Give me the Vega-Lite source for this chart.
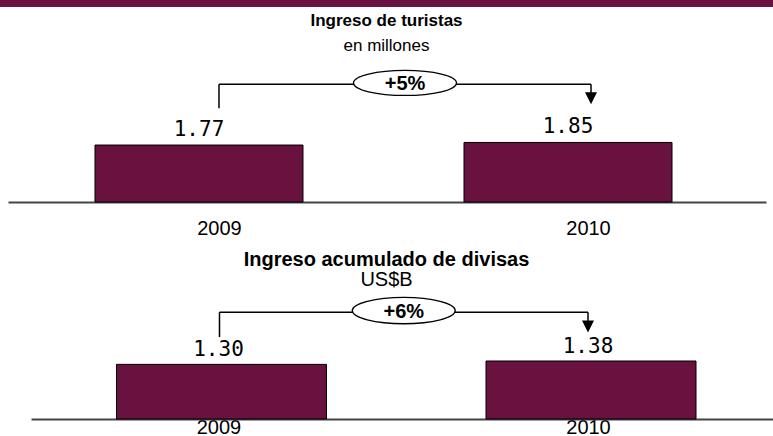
{
  "$schema": "https://vega.github.io/schema/vega-lite/v6.json",
  "padding": 0,
  "background": "white",
  "spacing": 5,
  "config": {
    "view": {"stroke": null},
    "font": "Liberation Sans",
    "title": {"anchor": "middle", "font": "Liberation Sans", "fontSize": 20, "fontWeight": "bold", "color": "#000000", "subtitleFont": "Liberation Sans", "subtitleFontSize": 20, "subtitleColor": "#000000"}
  },
  "datasets": {
    "header": [{"part": "header"}],
    "tourists": [{"year": 2009, "value": 1.77}, {"year": 2010, "value": 1.85}],
    "tourists_change": [{"from": 2009, "to": 2010, "label": "+5%"}],
    "revenue": [{"year": 2009, "value": 1.30}, {"year": 2010, "value": 1.38}],
    "revenue_change": [{"from": 2009, "to": 2010, "label": "+6%"}]
  },
  "vconcat": [
    {
      "width": 773,
      "height": 7,
      "data": {"name": "header"},
      "mark": {"type": "rect", "color": "#69113F"},
      "encoding": {}
    },
    {
      "spacing": 12,
      "vconcat": [
        {
          "width": 773,
          "height": 140,
          "title": {"text": "Ingreso de turistas", "subtitle": "en millones", "fontSize": 17, "subtitleFontSize": 17, "subtitlePadding": 8, "offset": 7},
          "layer": [
            {
              "data": {"name": "tourists"},
              "mark": {"type": "bar", "width": 208, "color": "#69113F", "stroke": "#000000", "strokeWidth": 1},
              "encoding": {
                "x": {"field": "year", "type": "quantitative", "scale": {"domain": [2008.496, 2010.523], "range": [8, 766], "zero": false, "nice": false},
                  "axis": {"values": [2009, 2010], "format": "d", "title": null, "grid": false, "ticks": false, "tickSize": 0, "labelPadding": 16, "labelOffset": 20, "labelFontSize": 20, "labelColor": "#000000", "labelFont": "Liberation Sans", "domainColor": "#444444", "domainWidth": 2}},
                "y": {"field": "value", "type": "quantitative", "scale": {"domain": [0, 4.35], "nice": false, "zero": true}, "axis": null}
              }
            },
            {
              "data": {"name": "tourists"},
              "mark": {"type": "text", "font": "DejaVu Sans Mono", "fontSize": 21, "baseline": "alphabetic", "dy": -9, "color": "#000000"},
              "encoding": {
                "x": {"field": "year", "type": "quantitative"},
                "y": {"field": "value", "type": "quantitative"},
                "text": {"field": "value", "type": "quantitative", "format": ".2f"}
              }
            },
            {
              "data": {"name": "tourists_change"},
              "mark": {"type": "rule", "xOffset": 20, "color": "#000000", "strokeWidth": 1.5},
              "encoding": {
                "x": {"field": "from", "type": "quantitative"},
                "y": {"datum": 2.91, "type": "quantitative"},
                "y2": {"datum": 3.66}
              }
            },
            {
              "data": {"name": "tourists_change"},
              "mark": {"type": "rule", "xOffset": 20, "x2Offset": 23, "color": "#000000", "strokeWidth": 1.5},
              "encoding": {
                "x": {"field": "from", "type": "quantitative"},
                "x2": {"field": "to"},
                "y": {"datum": 3.66, "type": "quantitative"}
              }
            },
            {
              "data": {"name": "tourists_change"},
              "mark": {"type": "rule", "xOffset": 23, "color": "#000000", "strokeWidth": 1.5},
              "encoding": {
                "x": {"field": "to", "type": "quantitative"},
                "y": {"datum": 3.66, "type": "quantitative"},
                "y2": {"datum": 3.3}
              }
            },
            {
              "data": {"name": "tourists_change"},
              "mark": {"type": "point", "xOffset": 23, "shape": "M-1,-2L1,-2L0,0Z", "size": 144, "filled": true, "color": "#000000", "opacity": 1},
              "encoding": {
                "x": {"field": "to", "type": "quantitative"},
                "y": {"datum": 3.04, "type": "quantitative"}
              }
            },
            {
              "data": {"name": "tourists_change"},
              "transform": [{"fold": ["from", "to"], "as": ["end", "yr"]}],
              "mark": {"type": "point", "xOffset": 21.5, "shape": "M-1,0C-1,-0.1342,-0.5523,-0.243,0,-0.243C0.5523,-0.243,1,-0.1342,1,0C1,0.1342,0.5523,0.243,0,0.243C-0.5523,0.243,-1,0.1342,-1,0Z", "size": 10609, "filled": true, "fill": "#ffffff", "stroke": "#000000", "strokeWidth": 1.3, "opacity": 1},
              "encoding": {
                "x": {"aggregate": "mean", "field": "yr", "type": "quantitative"},
                "y": {"datum": 3.7, "type": "quantitative"},
                "detail": {"field": "label"}
              }
            },
            {
              "data": {"name": "tourists_change"},
              "transform": [{"fold": ["from", "to"], "as": ["end", "yr"]}],
              "mark": {"type": "text", "xOffset": 21.5, "font": "Liberation Sans", "fontSize": 20, "fontWeight": "bold", "baseline": "middle", "color": "#000000"},
              "encoding": {
                "x": {"aggregate": "mean", "field": "yr", "type": "quantitative"},
                "y": {"datum": 3.66, "type": "quantitative"},
                "text": {"field": "label"}
              }
            }
          ]
        },
        {
          "width": 773,
          "height": 129,
          "title": {"text": "Ingreso acumulado de divisas", "subtitle": "US$B", "subtitlePadding": 0, "offset": 0},
          "layer": [
            {
              "data": {"name": "revenue"},
              "mark": {"type": "bar", "width": 210, "color": "#69113F", "stroke": "#000000", "strokeWidth": 1},
              "encoding": {
                "x": {"field": "year", "type": "quantitative", "scale": {"domain": [2008.498, 2010.479], "range": [31, 773], "zero": false, "nice": false},
                  "axis": {"values": [2009, 2010], "format": "d", "title": null, "grid": false, "ticks": false, "tickSize": 0, "labelPadding": -2, "labelOffset": -3, "labelFontSize": 20, "labelColor": "#000000", "labelFont": "Liberation Sans", "domainColor": "#444444", "domainWidth": 2}},
                "y": {"field": "value", "type": "quantitative", "scale": {"domain": [0, 3.07], "nice": false, "zero": true}, "axis": null}
              }
            },
            {
              "data": {"name": "revenue"},
              "mark": {"type": "text", "font": "DejaVu Sans Mono", "fontSize": 21, "baseline": "alphabetic", "dy": -8, "xOffset": -3, "color": "#000000"},
              "encoding": {
                "x": {"field": "year", "type": "quantitative"},
                "y": {"field": "value", "type": "quantitative"},
                "text": {"field": "value", "type": "quantitative", "format": ".2f"}
              }
            },
            {
              "data": {"name": "revenue_change"},
              "mark": {"type": "rule", "xOffset": -2, "color": "#000000", "strokeWidth": 1.5},
              "encoding": {
                "x": {"field": "from", "type": "quantitative"},
                "y": {"datum": 1.95, "type": "quantitative"},
                "y2": {"datum": 2.54}
              }
            },
            {
              "data": {"name": "revenue_change"},
              "mark": {"type": "rule", "xOffset": -2, "x2Offset": -3, "color": "#000000", "strokeWidth": 1.5},
              "encoding": {
                "x": {"field": "from", "type": "quantitative"},
                "x2": {"field": "to"},
                "y": {"datum": 2.54, "type": "quantitative"}
              }
            },
            {
              "data": {"name": "revenue_change"},
              "mark": {"type": "rule", "xOffset": -3, "color": "#000000", "strokeWidth": 1.5},
              "encoding": {
                "x": {"field": "to", "type": "quantitative"},
                "y": {"datum": 2.54, "type": "quantitative"},
                "y2": {"datum": 2.2}
              }
            },
            {
              "data": {"name": "revenue_change"},
              "mark": {"type": "point", "xOffset": -3, "shape": "M-1,-2L1,-2L0,0Z", "size": 144, "filled": true, "color": "#000000", "opacity": 1},
              "encoding": {
                "x": {"field": "to", "type": "quantitative"},
                "y": {"datum": 2.06, "type": "quantitative"}
              }
            },
            {
              "data": {"name": "revenue_change"},
              "transform": [{"fold": ["from", "to"], "as": ["end", "yr"]}],
              "mark": {"type": "point", "xOffset": -2.5, "shape": "M-1,0C-1,-0.1411,-0.5523,-0.2555,0,-0.2555C0.5523,-0.2555,1,-0.1411,1,0C1,0.1411,0.5523,0.2555,0,0.2555C-0.5523,0.2555,-1,0.1411,-1,0Z", "size": 10609, "filled": true, "fill": "#ffffff", "stroke": "#000000", "strokeWidth": 1.3, "opacity": 1},
              "encoding": {
                "x": {"aggregate": "mean", "field": "yr", "type": "quantitative"},
                "y": {"datum": 2.58, "type": "quantitative"},
                "detail": {"field": "label"}
              }
            },
            {
              "data": {"name": "revenue_change"},
              "transform": [{"fold": ["from", "to"], "as": ["end", "yr"]}],
              "mark": {"type": "text", "xOffset": -2.5, "font": "Liberation Sans", "fontSize": 20, "fontWeight": "bold", "baseline": "middle", "color": "#000000"},
              "encoding": {
                "x": {"aggregate": "mean", "field": "yr", "type": "quantitative"},
                "y": {"datum": 2.54, "type": "quantitative"},
                "text": {"field": "label"}
              }
            }
          ]
        }
      ]
    }
  ]
}
